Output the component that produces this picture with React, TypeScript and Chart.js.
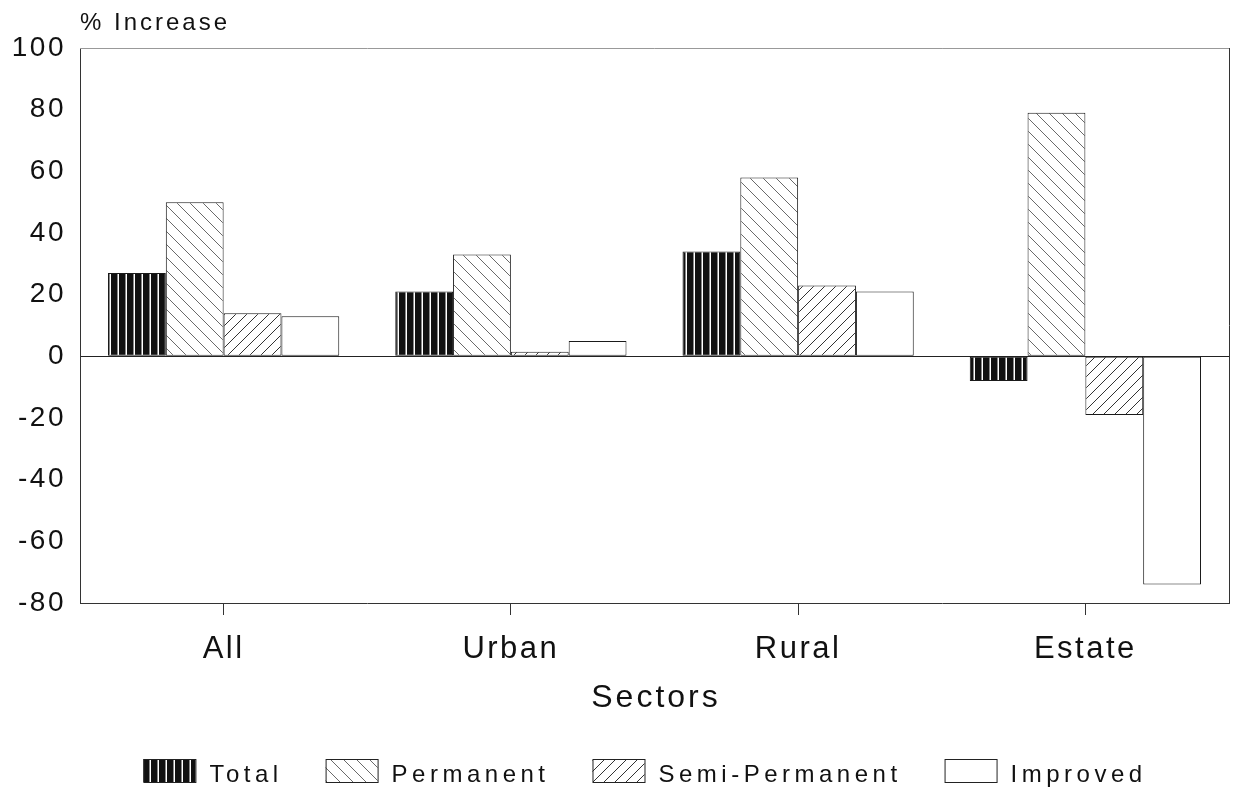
import React, { useEffect, useRef } from "react";
import { Chart, registerables } from "chart.js";

Chart.register(...registerables);

const categories = ["All", "Urban", "Rural", "Estate"];
const seriesLabels = ["Total", "Permanent", "Semi-Permanent", "Improved"];
const totalValues = [27, 21, 34, -8];
const permanentValues = [50, 33, 58, 79];
const semiPermanentValues = [14, 1.5, 23, -19];
const improvedValues = [13, 5, 21, -74];
const yMin = -80;
const yMax = 100;
const yStep = 20;
const yAxisTitle = "% Increase";
const xAxisTitle = "Sectors";

const FONT = "'Liberation Sans', Arial, Helvetica, sans-serif";

function makePattern(kind: string): CanvasPattern | string {
  const c = document.createElement("canvas");
  const ctx = c.getContext("2d");
  if (!ctx) return "#fff";
  if (kind === "vertical") {
    c.width = 8;
    c.height = 8;
    ctx.fillStyle = "#111";
    ctx.fillRect(0, 0, 8, 8);
    ctx.fillStyle = "#fff";
    ctx.fillRect(5.5, 0, 1.5, 8);
  } else if (kind === "back" || kind === "fwd") {
    const s = kind === "back" ? 13 : 11;
    c.width = s;
    c.height = s;
    ctx.fillStyle = "#fff";
    ctx.fillRect(0, 0, s, s);
    ctx.strokeStyle = kind === "back" ? "#6a6a6a" : "#333";
    ctx.lineWidth = 1;
    ctx.beginPath();
    for (const o of [-s, 0, s]) {
      if (kind === "back") {
        ctx.moveTo(o, 0);
        ctx.lineTo(o + s, s);
      } else {
        ctx.moveTo(o, s);
        ctx.lineTo(o + s, 0);
      }
    }
    ctx.stroke();
  } else {
    return "#fff";
  }
  const p = ctx.createPattern(c, "repeat");
  return p || "#fff";
}

const decorPlugin = {
  id: "decor",
  beforeDraw(chart: any) {
    chart.ctx.letterSpacing = "2.5px";
  },
  afterDraw(chart: any) {
    const { ctx, chartArea } = chart;
    ctx.save();
    // plot frame (top and right)
    ctx.lineWidth = 1;
    ctx.strokeStyle = "#999";
    ctx.beginPath();
    ctx.moveTo(chartArea.left, chartArea.top + 0.5);
    ctx.lineTo(chartArea.right + 0.5, chartArea.top + 0.5);
    ctx.stroke();
    ctx.strokeStyle = "#333";
    ctx.beginPath();
    ctx.moveTo(chartArea.right + 0.5, chartArea.top);
    ctx.lineTo(chartArea.right + 0.5, chartArea.bottom);
    ctx.stroke();

    ctx.fillStyle = "#111";
    // y axis title
    ctx.letterSpacing = "3px";
    ctx.font = `24px ${FONT}`;
    ctx.textAlign = "left";
    ctx.textBaseline = "alphabetic";
    ctx.fillText(yAxisTitle, chartArea.left, 30);

    // x axis title
    ctx.letterSpacing = "3px";
    ctx.font = `32px ${FONT}`;
    const tw = ctx.measureText(xAxisTitle).width;
    ctx.fillText(xAxisTitle, (chartArea.left + chartArea.right) / 2 - tw / 2 + 1.5, 707);

    // legend
    ctx.letterSpacing = "4.5px";
    ctx.font = `24px ${FONT}`;
    const boxW = 52;
    const boxH = 23;
    const boxGap = 14;
    const itemGap = 43;
    const widths = chart.data.datasets.map((d: any) => ctx.measureText(d.label).width);
    const total =
      widths.reduce((a: number, w: number) => a + boxW + boxGap + w, 0) + itemGap * (widths.length - 1);
    let x = 645 - total / 2;
    const baseline = 782;
    chart.data.datasets.forEach((d: any, i: number) => {
      ctx.fillStyle = d.backgroundColor;
      ctx.fillRect(x, baseline - boxH, boxW, boxH);
      ctx.strokeStyle = "#222";
      ctx.lineWidth = 1;
      ctx.strokeRect(x + 0.5, baseline - boxH + 0.5, boxW, boxH);
      ctx.fillStyle = "#111";
      ctx.fillText(d.label, x + boxW + boxGap, baseline);
      x += boxW + boxGap + widths[i] + itemGap;
    });
    ctx.restore();
  },
};

export default function App() {
  const canvasRef = useRef<HTMLCanvasElement | null>(null);

  useEffect(() => {
    if (!canvasRef.current) return;
    const patterns = [
      makePattern("vertical"),
      makePattern("back"),
      makePattern("fwd"),
      makePattern("none"),
    ];
    const seriesValues = [totalValues, permanentValues, semiPermanentValues, improvedValues];
    const chart = new Chart(canvasRef.current, {
      type: "bar",
      data: {
        labels: categories,
        datasets: seriesLabels.map((label, i) => ({
          label,
          data: seriesValues[i],
          backgroundColor: patterns[i] as any,
          borderColor: "#1a1a1a",
          borderWidth: 1,
          borderSkipped: false,
          barPercentage: 1,
          categoryPercentage: 0.805,
        })),
      },
      options: {
        responsive: true,
        maintainAspectRatio: false,
        animation: false,
        layout: { padding: { top: 48, right: 4, left: 0, bottom: 0 } },
        plugins: {
          legend: { display: false },
          tooltip: { enabled: false },
          title: { display: false },
        },
        scales: {
          x: {
            offset: true,
            afterFit: (scale: any) => {
              scale.height = 192;
            },
            grid: {
              offset: false,
              drawOnChartArea: false,
              drawTicks: true,
              tickLength: 12,
              color: "#333",
            },
            border: { display: true, color: "#333", width: 1 },
            ticks: {
              color: "#111",
              font: { family: FONT, size: 31 },
              padding: 16,
              maxRotation: 0,
              autoSkip: false,
            },
          },
          y: {
            min: yMin,
            max: yMax,
            afterFit: (scale: any) => {
              scale.width = 80;
            },
            grid: {
              drawTicks: false,
              color: (c: any) => (c.tick && c.tick.value === 0 ? "#222" : "rgba(0,0,0,0)"),
            },
            border: { display: true, color: "#333", width: 1 },
            ticks: {
              stepSize: yStep,
              color: "#111",
              font: { family: FONT, size: 28 },
              padding: 14,
            },
          },
        },
      },
      plugins: [decorPlugin],
    });
    return () => chart.destroy();
  }, []);

  return (
    <div
      style={{
        position: "fixed",
        left: 0,
        top: 0,
        width: 1233,
        height: 795,
        background: "#fff",
      }}
    >
      <canvas ref={canvasRef} />
    </div>
  );
}
